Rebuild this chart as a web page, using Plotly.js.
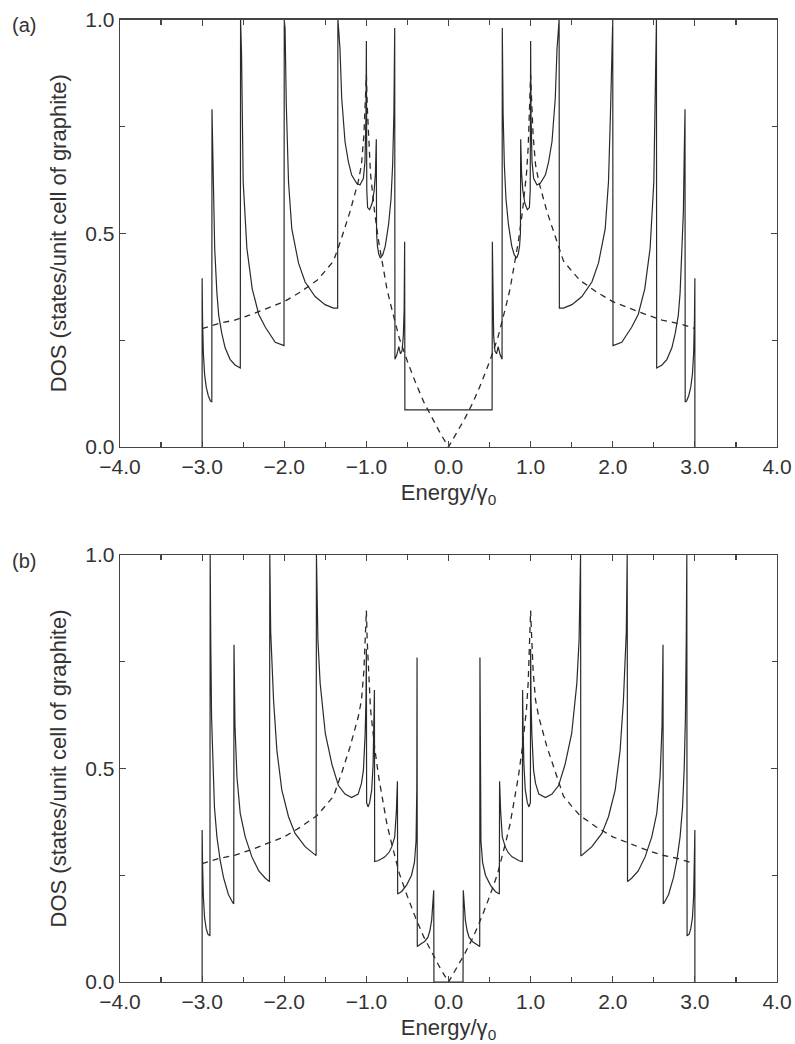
<!DOCTYPE html>
<html>
<head>
<meta charset="utf-8">
<script src="https://cdn.plot.ly/plotly-3.0.1.min.js"></script>
<style>
html,body{margin:0;padding:0;background:#ffffff;}
#chart{width:795px;height:1044px;}
</style>
</head>
<body>
<div id="chart"></div>
<script>
// ---- tick labels ----
const xTickVals = [-4,-3,-2,-1,0,1,2,3,4];
const xTickText = ['\u22124.0','\u22123.0','\u22122.0','\u22121.0','0.0','1.0','2.0','3.0','4.0'];
const xMinorVals = [-3.5,-2.5,-1.5,-0.5,0.5,1.5,2.5,3.5];
const yTickVals = [0,0.5,1];
const yTickText = ['0.0','0.5','1.0'];
const yMinorVals = [0.25,0.75];
const panelLabels = ['(a)','(b)'];
const xTitle = 'Energy/\u03b3<sub>0</sub>';
const yTitle = 'DOS (states/unit cell of graphite)';

// ---- graphite DOS (dashed, both panels) ----
const graphiteE = [-3.0,-2.8,-2.6,-2.4,-2.2,-2.0,-1.8,-1.6,-1.5,-1.4,-1.3,-1.2,-1.1,-1.06,-1.03,-1.01,-1.0,-0.99,-0.97,-0.95,-0.9,-0.85,-0.8,-0.75,-0.7,-0.6,-0.5,-0.4,-0.3,-0.2,-0.1,0.0,
  0.1,0.2,0.3,0.4,0.5,0.6,0.7,0.75,0.8,0.85,0.9,0.95,0.97,0.99,1.0,1.01,1.03,1.06,1.1,1.2,1.3,1.4,1.5,1.6,1.8,2.0,2.2,2.4,2.6,2.8,3.0];
const graphiteDOS = [0.277,0.289,0.297,0.31,0.325,0.34,0.363,0.39,0.412,0.435,0.49,0.55,0.62,0.66,0.73,0.82,0.87,0.80,0.70,0.64,0.55,0.48,0.425,0.37,0.33,0.255,0.20,0.15,0.105,0.067,0.032,0.0,
  0.032,0.067,0.105,0.15,0.20,0.255,0.33,0.37,0.425,0.48,0.55,0.64,0.70,0.80,0.87,0.82,0.73,0.66,0.62,0.55,0.49,0.435,0.412,0.39,0.363,0.34,0.325,0.31,0.297,0.289,0.277];

// ---- (a) metallic nanotube DOS (solid) ----
const metalE = [-3.0,-3.0,-2.995,-2.985,-2.97,-2.95,-2.925,-2.90,-2.882,-2.88,-2.87,-2.86,-2.847,-2.82,-2.798,-2.76,-2.72,-2.66,-2.60,-2.535,
  -2.532,-2.52,-2.50,-2.455,-2.39,-2.31,-2.23,-2.11,-2.003,
  -2.0,-1.99,-1.975,-1.948,-1.908,-1.826,-1.746,-1.624,-1.503,-1.40,-1.35,
  -1.347,-1.335,-1.321,-1.30,-1.26,-1.219,-1.179,-1.118,-1.078,-1.037,-1.017,-1.005,-1.0,
  -0.995,-0.985,-0.96,-0.93,-0.905,-0.89,-0.879,-0.876,-0.865,-0.85,-0.83,-0.80,-0.77,-0.73,-0.70,-0.68,-0.665,-0.655,
  -0.652,-0.63,-0.605,-0.585,-0.565,-0.55,-0.54,-0.534,-0.531,
  0.531,0.534,0.54,0.55,0.565,0.585,0.605,0.63,0.652,
  0.655,0.665,0.68,0.70,0.73,0.77,0.80,0.83,0.85,0.865,0.876,0.879,0.89,0.905,0.93,0.96,0.985,0.995,
  1.0,1.005,1.017,1.037,1.078,1.118,1.179,1.219,1.26,1.30,1.321,1.335,1.347,
  1.35,1.40,1.503,1.624,1.746,1.826,1.908,1.948,1.975,1.99,2.0,
  2.003,2.11,2.23,2.31,2.39,2.455,2.50,2.52,2.532,
  2.535,2.60,2.66,2.72,2.76,2.798,2.82,2.847,2.86,2.87,2.88,2.882,2.90,2.925,2.95,2.97,2.985,2.995,3.0,3.0];
const metalDOS = [0,0.395,0.30,0.22,0.17,0.14,0.12,0.108,0.105,0.79,0.68,0.55,0.465,0.36,0.308,0.265,0.232,0.205,0.192,0.185,
  1.0,0.92,0.62,0.465,0.37,0.31,0.28,0.245,0.237,
  1.0,0.98,0.80,0.62,0.51,0.43,0.386,0.352,0.333,0.325,0.325,
  1.0,0.97,0.93,0.815,0.714,0.667,0.636,0.617,0.613,0.628,0.667,0.776,0.95,
  0.60,0.56,0.555,0.57,0.60,0.64,0.72,0.50,0.47,0.452,0.442,0.45,0.47,0.52,0.58,0.66,0.78,0.98,
  0.205,0.215,0.235,0.218,0.225,0.26,0.32,0.48,0.087,
  0.087,0.48,0.32,0.26,0.225,0.218,0.235,0.215,0.205,
  0.98,0.78,0.66,0.58,0.52,0.47,0.45,0.442,0.452,0.47,0.50,0.72,0.64,0.60,0.57,0.555,0.56,0.60,
  0.95,0.776,0.667,0.628,0.613,0.617,0.636,0.667,0.714,0.815,0.93,0.97,1.0,
  0.325,0.325,0.333,0.352,0.386,0.43,0.51,0.62,0.80,0.98,1.0,
  0.237,0.245,0.28,0.31,0.37,0.465,0.62,0.92,1.0,
  0.185,0.192,0.205,0.232,0.265,0.308,0.36,0.465,0.55,0.68,0.79,0.105,0.108,0.12,0.14,0.17,0.22,0.30,0.395,0];

// ---- (b) semiconducting nanotube DOS (solid) ----
const semiE = [-3.0,-3.0,-2.995,-2.985,-2.97,-2.95,-2.93,-2.905,
  -2.902,-2.895,-2.885,-2.87,-2.85,-2.82,-2.78,-2.74,-2.68,-2.625,-2.615,
  -2.612,-2.60,-2.576,-2.536,-2.475,-2.394,-2.31,-2.23,-2.18,
  -2.176,-2.165,-2.13,-2.09,-2.03,-1.948,-1.868,-1.746,-1.624,-1.612,
  -1.608,-1.59,-1.563,-1.50,-1.42,-1.34,-1.26,-1.18,-1.10,-1.06,-1.036,-1.015,-1.005,-1.0,
  -0.997,-0.98,-0.96,-0.935,-0.918,-0.908,-0.902,
  -0.899,-0.86,-0.82,-0.774,-0.72,-0.69,-0.655,-0.635,-0.622,
  -0.619,-0.57,-0.51,-0.45,-0.415,-0.395,-0.386,-0.383,
  -0.380,-0.33,-0.29,-0.25,-0.227,-0.205,-0.194,-0.18,-0.177,
  0.177,0.18,0.194,0.205,0.227,0.25,0.29,0.33,0.380,
  0.383,0.386,0.395,0.415,0.45,0.51,0.57,0.619,
  0.622,0.635,0.655,0.69,0.72,0.774,0.82,0.86,0.899,
  0.902,0.908,0.918,0.935,0.96,0.98,0.997,
  1.0,1.005,1.015,1.036,1.06,1.10,1.18,1.26,1.34,1.42,1.50,1.563,1.59,1.608,
  1.612,1.624,1.746,1.868,1.948,2.03,2.09,2.13,2.165,2.176,
  2.18,2.23,2.31,2.394,2.475,2.536,2.576,2.60,2.612,
  2.615,2.625,2.68,2.74,2.78,2.82,2.85,2.87,2.885,2.895,2.902,
  2.905,2.93,2.95,2.97,2.985,2.995,3.0,3.0];
const semiDOS = [0,0.356,0.28,0.20,0.15,0.125,0.112,0.108,
  1.0,0.80,0.62,0.50,0.41,0.34,0.285,0.245,0.205,0.185,0.183,
  0.79,0.60,0.48,0.395,0.34,0.293,0.26,0.243,0.235,
  1.0,0.82,0.66,0.543,0.45,0.387,0.348,0.317,0.297,0.296,
  1.0,0.80,0.70,0.582,0.51,0.46,0.44,0.432,0.44,0.465,0.496,0.58,0.66,0.78,
  0.42,0.41,0.42,0.45,0.51,0.60,0.684,
  0.282,0.284,0.288,0.293,0.305,0.317,0.34,0.40,0.47,
  0.206,0.212,0.227,0.25,0.28,0.33,0.45,0.76,
  0.083,0.09,0.095,0.105,0.12,0.145,0.17,0.215,0,
  0,0.215,0.17,0.145,0.12,0.105,0.095,0.09,0.083,
  0.76,0.45,0.33,0.28,0.25,0.227,0.212,0.206,
  0.47,0.40,0.34,0.317,0.305,0.293,0.288,0.284,0.282,
  0.684,0.60,0.51,0.45,0.42,0.41,0.42,
  0.78,0.66,0.58,0.496,0.465,0.44,0.432,0.44,0.46,0.51,0.582,0.70,0.80,1.0,
  0.296,0.297,0.317,0.348,0.387,0.45,0.543,0.66,0.82,1.0,
  0.235,0.243,0.26,0.293,0.34,0.395,0.48,0.60,0.79,
  0.183,0.185,0.205,0.245,0.285,0.34,0.41,0.50,0.62,0.80,1.0,
  0.108,0.112,0.125,0.15,0.20,0.28,0.356,0];

const solidLine = {color:'#2a2a2a', width:1.2};
const dashLine = {color:'#2a2a2a', width:1.3, dash:'6px,5px'};

const traces = [
  {x:graphiteE, y:graphiteDOS, xaxis:'x', yaxis:'y', mode:'lines', line:dashLine, hoverinfo:'skip'},
  {x:metalE, y:metalDOS, xaxis:'x', yaxis:'y', mode:'lines', line:solidLine, hoverinfo:'skip'},
  {x:graphiteE, y:graphiteDOS, xaxis:'x2', yaxis:'y2', mode:'lines', line:dashLine, hoverinfo:'skip'},
  {x:semiE, y:semiDOS, xaxis:'x2', yaxis:'y2', mode:'lines', line:solidLine, hoverinfo:'skip'}
];

const fontFam = 'Liberation Sans, Arial, Helvetica, sans-serif';
const W = 795, H = 1044;
const xDom = [120/W, 777/W];

function xAxis(anchor){
  return {
    domain:xDom, anchor:anchor, range:[-4,4], tickmode:'array', tickvals:xTickVals, ticktext:xTickText,
    minor:{tickmode:'array', tickvals:xMinorVals, ticks:'inside', ticklen:5, tickwidth:1.2, tickcolor:'#444', showgrid:false},
    showgrid:false, zeroline:false, showline:true, linecolor:'#444', linewidth:1.3, mirror:'ticks',
    ticks:'inside', ticklen:6, tickwidth:1.2, tickcolor:'#444',
    tickfont:{family:fontFam, size:21, color:'#333'},
    title:{text:xTitle, font:{family:fontFam, size:22, color:'#333'}, standoff:8},
    fixedrange:true
  };
}
function yAxis(anchor, dom){
  return {
    domain:dom, anchor:anchor, range:[0,1], tickmode:'array', tickvals:yTickVals, ticktext:yTickText,
    minor:{tickmode:'array', tickvals:yMinorVals, ticks:'inside', ticklen:5, tickwidth:1.2, tickcolor:'#444', showgrid:false},
    showgrid:false, zeroline:false, showline:true, linecolor:'#444', linewidth:1.3, mirror:'ticks',
    ticks:'inside', ticklen:6, tickwidth:1.2, tickcolor:'#444',
    tickfont:{family:fontFam, size:21, color:'#333'},
    title:{text:yTitle, font:{family:fontFam, size:22, color:'#333'}, standoff:12},
    fixedrange:true
  };
}

const layout = {
  width:W, height:H, margin:{l:0, r:0, t:0, b:0}, showlegend:false,
  paper_bgcolor:'#ffffff', plot_bgcolor:'#ffffff',
  xaxis:xAxis('y'),
  yaxis:yAxis('x', [(H-447)/H, (H-19.5)/H]),
  xaxis2:xAxis('y2'),
  yaxis2:yAxis('x2', [(H-982)/H, (H-555)/H]),
  annotations:[
    {text:panelLabels[0], xref:'paper', yref:'paper', x:24/W, y:1-25/H, showarrow:false, xanchor:'center', yanchor:'middle', font:{family:fontFam, size:20, color:'#333'}},
    {text:panelLabels[1], xref:'paper', yref:'paper', x:24/W, y:1-561/H, showarrow:false, xanchor:'center', yanchor:'middle', font:{family:fontFam, size:20, color:'#333'}}
  ]
};

Plotly.newPlot('chart', traces, layout, {staticPlot:true, displayModeBar:false});
</script>
</body>
</html>
